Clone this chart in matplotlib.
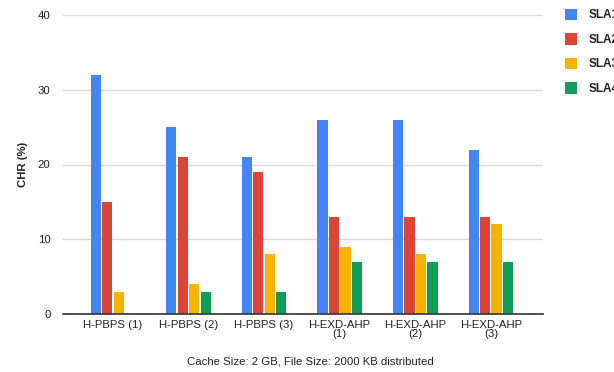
import matplotlib
matplotlib.use('Agg')
import matplotlib.pyplot as plt
from matplotlib.patches import Patch
import numpy as np

plt.rcParams['font.family'] = ['Liberation Sans', 'DejaVu Sans']

# data
categories = ['H-PBPS (1)', 'H-PBPS (2)', 'H-PBPS (3)',
              'H-EXD-AHP\n(1)', 'H-EXD-AHP\n(2)', 'H-EXD-AHP\n(3)']
series_names = ['SLA1', 'SLA2', 'SLA3', 'SLA4']
sla1 = [32, 25, 21, 26, 26, 22]
sla2 = [15, 21, 19, 13, 13, 13]
sla3 = [3, 4, 8, 9, 8, 12]
sla4 = [0, 3, 3, 7, 7, 7]
colors = ['#4285F4', '#DB4437', '#F4B400', '#0F9D58']

fig = plt.figure(figsize=(6.14, 3.72), dpi=100)
ax = fig.add_axes([63/614, 1-314/372, 480/614, 299/372])

x = np.arange(len(categories))
pitch = 0.152
width = 0.135
for i, vals in enumerate([sla1, sla2, sla3, sla4]):
    ax.bar(x + (i - 1.5)*pitch, vals, width, color=colors[i], zorder=3)

ax.set_xlim(-0.66, 5.69)
ax.set_ylim(0, 40)
ax.set_yticks([0, 10, 20, 30, 40])
ax.grid(axis='y', color='#d9d9d9', linewidth=1, zorder=0)
for s in ['top', 'right', 'left']:
    ax.spines[s].set_visible(False)
ax.spines['bottom'].set_color('#333333')
ax.spines['bottom'].set_linewidth(1.2)
ax.spines['bottom'].set_zorder(4)
ax.tick_params(axis='both', length=0, labelsize=8.2, colors='#222222')
ax.tick_params(axis='y', pad=9)
ax.tick_params(axis='x', pad=4)
ax.set_xticks(x)
ax.set_xticklabels(categories, linespacing=0.95)

ax.set_ylabel('CHR (%)', fontsize=8.2, fontweight='bold', color='#222222', labelpad=7)
fig.text(310/614, 1-361/372, 'Cache Size: 2 GB, File Size: 2000 KB distributed',
         ha='center', va='center', fontsize=8.2, color='#222222')

handles = [Patch(facecolor=c, edgecolor='none') for c in colors]
leg = fig.legend(handles, series_names, loc='upper left',
                 bbox_to_anchor=(560/614, 1-4/372), frameon=False,
                 fontsize=8.5, handlelength=1.0, handleheight=1.1,
                 handletextpad=1.0, labelspacing=1.0, borderaxespad=0)
for t in leg.get_texts():
    t.set_fontweight('bold')
    t.set_color('#222222')

fig.savefig('out.png', dpi=100)
